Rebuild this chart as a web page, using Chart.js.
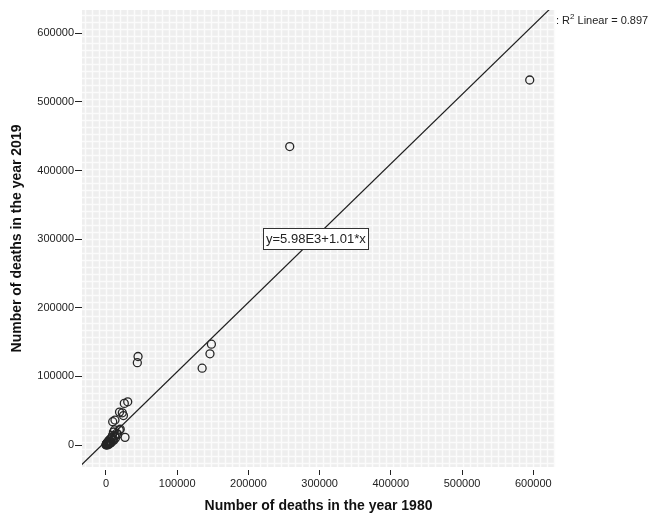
<!DOCTYPE html>
<html>
<head>
<meta charset="utf-8">
<script src="https://cdn.jsdelivr.net/npm/chart.js@4/dist/chart.umd.min.js"></script>
<style>
  html, body { margin: 0; padding: 0; background: #ffffff; }
  #wrap { width: 652px; height: 519px; }
</style>
</head>
<body>
<div id="wrap"><canvas id="c" width="652" height="519"></canvas></div>
<script>
// Deaths per cause/region, 1980 vs 2019
const deaths1980 = [595000, 258000, 148000, 146000, 135000, 45000, 44000,
  30500, 25700, 22900, 24500, 19000, 12600, 9400, 26700, 18700, 15000, 12000,
  20000, 16500, 10500, 9000, 8000, 13500, 11000, 7000, 6000, 5000, 4000, 3000,
  2500, 2000, 1500, 1000, 600, 300, 150, 3500, 7500, 5500, 9500, 12500,
  800, 1800, 2800, 4500, 6500, 400, 1200, 3200];
const deaths2019 = [532000, 435000, 147000, 133000, 112000, 129000, 120000,
  63000, 60700, 47000, 43000, 48000, 36400, 34000, 11200, 21800, 17000, 22000,
  23000, 15500, 19000, 14000, 11000, 10500, 7000, 9000, 5000, 7500, 3000, 4500,
  1500, 3500, 800, 2000, 500, 1000, 200, 6000, 4000, 2500, 6500, 13000,
  1800, 600, 1200, 2200, 3000, 300, 2600, 400];

const xTickValues = [0, 100000, 200000, 300000, 400000, 500000, 600000];
const yTickValues = [0, 100000, 200000, 300000, 400000, 500000, 600000];

// Linear fit reported on the chart
const fitIntercept = 5980;
const fitSlope = 1.01;
const fitLabel = 'y=5.98E3+1.01*x';
const rSquaredText = '0.897';

const xMin = -33700, xMax = 630500;
const yMin = -32000, yMax = 634000;

const points = deaths1980.map((v, i) => ({ x: v, y: deaths2019[i] }));
const fitLine = [xMin - 10000, xMax + 10000].map(x => ({ x: x, y: fitIntercept + fitSlope * x }));

const FONT = '"Liberation Sans", Arial, sans-serif';

// Shaded plot panel with a fine white grid
const panelPlugin = {
  id: 'panel',
  beforeDraw(chart) {
    const { ctx, chartArea: a } = chart;
    ctx.save();
    ctx.fillStyle = '#eeeeee';
    ctx.fillRect(a.left, a.top, a.right - a.left, a.bottom - a.top);
    ctx.strokeStyle = '#fbfbfb';
    ctx.lineWidth = 1.5;
    ctx.beginPath();
    for (let x = a.left + 3.5; x < a.right; x += 7) {
      ctx.moveTo(x, a.top); ctx.lineTo(x, a.bottom);
    }
    for (let y = a.bottom - 3.5; y > a.top; y -= 7) {
      ctx.moveTo(a.left, y); ctx.lineTo(a.right, y);
    }
    ctx.stroke();
    ctx.restore();
  }
};

// Equation box and R² note for the fit line
const fitNotesPlugin = {
  id: 'fitNotes',
  afterDatasetsDraw(chart) {
    const { ctx, chartArea: a, scales } = chart;
    ctx.save();
    ctx.font = '13px ' + FONT;
    const tw = ctx.measureText(fitLabel).width;
    const cx = scales.x.getPixelForValue(294000);
    const cy = scales.y.getPixelForValue(301000);
    const bw = Math.round(tw + 5), bh = 21;
    const bx = Math.round(cx - bw / 2) + 0.5, by = Math.round(cy - bh / 2) + 0.5;
    ctx.fillStyle = '#ffffff';
    ctx.fillRect(bx, by, bw, bh);
    ctx.strokeStyle = '#333333';
    ctx.lineWidth = 1;
    ctx.strokeRect(bx, by, bw, bh);
    ctx.fillStyle = '#222222';
    ctx.textBaseline = 'middle';
    ctx.textAlign = 'left';
    ctx.fillText(fitLabel, bx + 2.5, by + bh / 2 + 0.5);

    // ": R² Linear = 0.897" beside the top of the line
    let x = a.right + 1;
    const base = a.top + 14;
    ctx.textBaseline = 'alphabetic';
    ctx.font = '11px ' + FONT;
    ctx.fillText(': R', x, base);
    x += ctx.measureText(': R').width;
    ctx.font = '8px ' + FONT;
    ctx.fillText('2', x, base - 5);
    x += ctx.measureText('2').width;
    ctx.font = '11px ' + FONT;
    ctx.fillText(' Linear = ' + rSquaredText, x, base);
    ctx.restore();
  }
};

new Chart(document.getElementById('c'), {
  type: 'scatter',
  data: {
    datasets: [
      {
        label: 'fit',
        type: 'line',
        data: fitLine,
        borderColor: '#1e1e1e',
        borderWidth: 1.2,
        pointRadius: 0,
        fill: false,
        clip: 0,
        order: 2
      },
      {
        label: 'deaths',
        data: points,
        pointStyle: 'circle',
        pointRadius: 4,
        pointBorderWidth: 1.3,
        borderColor: '#262626',
        backgroundColor: 'rgba(0,0,0,0)',
        clip: 0,
        order: 1
      }
    ]
  },
  options: {
    responsive: false,
    animation: false,
    devicePixelRatio: 1,
    layout: { padding: { left: 0, top: 10, right: 97, bottom: 0 } },
    plugins: { legend: { display: false }, tooltip: { enabled: false } },
    scales: {
      x: {
        type: 'linear',
        min: xMin,
        max: xMax,
        afterBuildTicks(scale) { scale.ticks = xTickValues.map(v => ({ value: v })); },
        afterFit(scale) { scale.height = 52; },
        border: { display: false },
        grid: {
          drawOnChartArea: false,
          drawTicks: true,
          tickLength: 8,
          tickColor: '#222222',
          tickWidth: 1,
          tickBorderDash: [0, 3, 5, 100]
        },
        ticks: {
          padding: 2,
          color: '#222222',
          font: { family: FONT, size: 11 },
          maxRotation: 0,
          callback: v => String(v)
        },
        title: {
          display: true,
          text: 'Number of deaths in the year 1980',
          color: '#111111',
          font: { family: FONT, size: 14, weight: 'bold' },
          padding: { top: 4, bottom: 4 }
        }
      },
      y: {
        type: 'linear',
        min: yMin,
        max: yMax,
        afterBuildTicks(scale) { scale.ticks = yTickValues.map(v => ({ value: v })); },
        afterFit(scale) { scale.width = 82; },
        border: { display: false },
        grid: {
          drawOnChartArea: false,
          drawTicks: true,
          tickLength: 7,
          tickColor: '#222222',
          tickWidth: 1
        },
        ticks: {
          padding: 1,
          color: '#222222',
          font: { family: FONT, size: 11 },
          callback: v => String(v)
        },
        title: {
          display: true,
          text: 'Number of deaths in the year 2019',
          color: '#111111',
          font: { family: FONT, size: 14, weight: 'bold' },
          padding: { top: 9, bottom: 4 }
        }
      }
    }
  },
  plugins: [panelPlugin, fitNotesPlugin]
});
</script>
</body>
</html>
